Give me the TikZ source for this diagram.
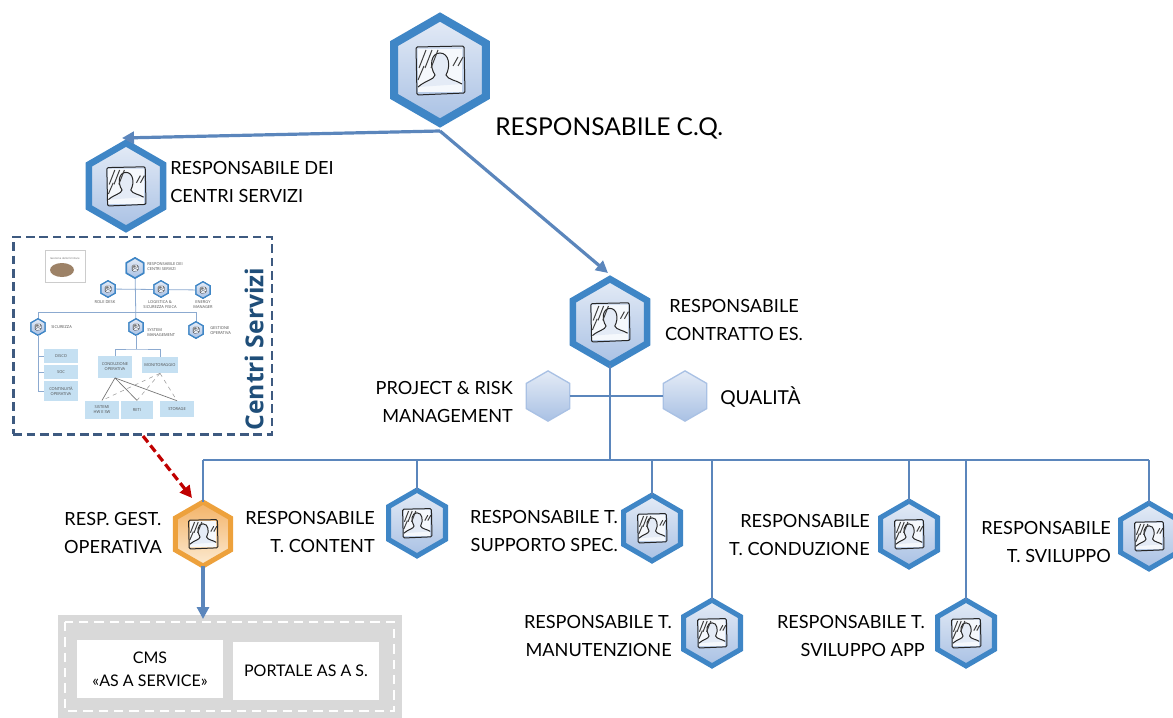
\documentclass[tikz,border=0pt]{standalone}
\usepackage{fontspec}
\setmainfont{Lato}
\newfontfamily\insetfont{Open Sans}
\usetikzlibrary{shapes.geometric,arrows.meta}
\definecolor{hexblue}{HTML}{3F86C6}
\definecolor{hexfillA}{HTML}{E4EBF6}
\definecolor{hexfillB}{HTML}{A9C1E4}
\definecolor{hexorange}{HTML}{EDA13C}
\definecolor{orangeA}{HTML}{FCEBD3}
\definecolor{orangeB}{HTML}{F3B266}
\definecolor{linkblue}{HTML}{5B86BC}
\definecolor{darkframe}{HTML}{3E5A80}
\definecolor{boxgrey}{HTML}{D9D9D9}
\definecolor{insetbox}{HTML}{C5E0F2}
\definecolor{insettitle}{HTML}{1F4E79}
\definecolor{darkred}{HTML}{C00000}
\newcommand{\iconlw}{0.75pt}
\tikzset{
  x=0.75pt,y=-0.75pt,
  hexbase/.style={regular polygon,regular polygon sides=6,shape border rotate=30,
    inner sep=0pt,outer sep=0pt,minimum size=1.37pt*#1},
  bluehex/.style={hexbase=#1,draw=hexblue,line width=0.105pt*#1,line join=miter,
    top color=hexfillA,bottom color=hexfillB},
  orangehex/.style={hexbase=#1,draw=hexorange,line width=0.105pt*#1,
    top color=orangeB,bottom color=orangeA},
  plainhex/.style={hexbase=#1,draw=hexfillB,line width=1pt,minimum size=1.45pt*#1,
    top color=hexfillA,bottom color=hexfillB},
  link/.style={draw=linkblue,line width=1.6pt},
  arrowlink/.style={draw=linkblue,line width=2.4pt,-{Triangle[length=9pt,width=9pt]}},
  label/.style={font=\fontsize{13.6}{21}\selectfont,align=center,inner sep=0pt,text=black},
  greybox/.style={fill=white,draw=none,align=center,inner sep=0pt,font=\fontsize{12}{17}\selectfont},
  inlink/.style={draw=linkblue!70,line width=0.6pt},
  inbox/.style={fill=insetbox,inner sep=0pt,align=center,font=\insetfont\fontsize{3}{3.8}\selectfont,minimum height=10pt,text=black!70},
  intext/.style={inner sep=0pt,align=left,font=\insetfont\fontsize{3}{3.8}\selectfont,text=black!70},
  usericon/.pic={
    \fill[white!88!hexfillB] (-22,-21) rectangle (22,22);
    \draw[black!85,line width=\iconlw,fill=hexfillA]
      (-22,17) .. controls (-14,10) and (-6,10) .. (-5,5)
      .. controls (-11,-4) and (-9,-17) .. (0,-17)
      .. controls (9,-17) and (11,-4) .. (6,5)
      .. controls (8,10) and (16,10) .. (22,14);
    \foreach \a in {-21,-15,-9}
      \draw[black!75,line width=\iconlw] (\a,-2) -- (\a+7,-20);
    \draw[black!75,line width=\iconlw] (-22,10) -- (-16,-4);
    \foreach \a in {13,18}
      \draw[black!75,line width=\iconlw] (\a,-4) -- (\a+5,-13);
    \draw[black!85,line width=\iconlw,rounded corners=1pt]
      (-24,-23) -- (24,-24) -- (25,23) -- (-23,25) -- cycle;
  },
}
\begin{document}
\begin{tikzpicture}
\useasboundingbox (0,0) rectangle (1173,717);

% ---- connectors drawn under the hexagons
\node[bluehex=58] (top) at (440,70) {};
\node[bluehex=47] (cs) at (126,186) {};
\node[bluehex=47] (ce) at (610,322) {};
\node[plainhex=26] (prm) at (548,396) {};
\node[plainhex=26] (qual) at (685,396) {};
\node[orangehex=35] (gest) at (203,534) {};
\node[bluehex=36] (tcont) at (417,523) {};
\node[bluehex=36] (tsupp) at (652,528) {};
\node[bluehex=36] (tcond) at (909,534) {};
\node[bluehex=36] (tsvil) at (1149,536) {};
\node[bluehex=36] (tman) at (712,633) {};
\node[bluehex=36] (tapp) at (966,633) {};

\pic[scale=1] at (top) {usericon};
\pic[scale=0.8] at (cs) {usericon};
\pic[scale=0.8] at (ce) {usericon};
\pic[scale=0.6] at (gest) {usericon};
\pic[scale=0.6] at (tcont) {usericon};
\pic[scale=0.6] at (tsupp) {usericon};
\pic[scale=0.6] at (tcond) {usericon};
\pic[scale=0.6] at (tsvil) {usericon};
\pic[scale=0.6] at (tman) {usericon};
\pic[scale=0.6] at (tapp) {usericon};

\coordinate (hub) at (610,460);
\coordinate (topfoot) at (440,131);
\coordinate (csarrow) at (122,138);
\coordinate (cearrow) at (608,273);
\draw[arrowlink] (topfoot) -- (csarrow);
\draw[arrowlink] (topfoot) -- (cearrow);
\draw[link] (ce.south) -- (hub);
\draw[link] (prm.east) -- (qual.west);
\coordinate (hleft) at (203,460);
\coordinate (hright) at (1149,460);
\draw[link] (hleft) -- (hright);
\draw[link] (hleft) -- (gest.north);
\draw[link] (tcont.north |- hub) -- (tcont.north);
\draw[link] (tsupp.north |- hub) -- (tsupp.north);
\draw[link] (tcond.north |- hub) -- (tcond.north);
\draw[link] (tsvil.north |- hub) -- (tsvil.north);
\draw[link] (tman.north |- hub) -- (tman.north);
\draw[link] (tapp.north |- hub) -- (tapp.north);

% ---- labels
\node[label,font=\fontsize{18.4}{22}\selectfont,anchor=west] (lbtop) at (495,128) {RESPONSABILE C.Q.};
\node[label,anchor=west,align=left] (lbcs) at (170,182) {RESPONSABILE DEI\\CENTRI SERVIZI};
\node[label,anchor=center] (lbce) at (734,320) {RESPONSABILE\\CONTRATTO ES.};
\node[label,anchor=east,align=right] (lbprm) at (513,402) {PROJECT \& RISK\\MANAGEMENT};
\node[label,anchor=west,font=\fontsize{14.4}{17}\selectfont] (lbq) at (720,397) {QUALITÀ};
\node[label,anchor=east,align=center] (lbgest) at (162,533) {RESP. GEST.\\OPERATIVA};
\node[label,anchor=east,align=right] (lbtc) at (375,532) {RESPONSABILE\\T. CONTENT};
\node[label,anchor=east,align=right] (lbts) at (618,531) {RESPONSABILE T.\\SUPPORTO SPEC.};
\node[label,anchor=east,align=right] (lbtd) at (870,535) {RESPONSABILE\\T. CONDUZIONE};
\node[label,anchor=east,align=right] (lbtv) at (1111,542) {RESPONSABILE\\T. SVILUPPO};
\node[label,anchor=east,align=right] (lbtm) at (672,636) {RESPONSABILE T.\\MANUTENZIONE};
\node[label,anchor=east,align=right] (lbta) at (925,636) {RESPONSABILE T.\\SVILUPPO APP};

% ---- grey box (clipped by the page edge)
\begin{scope}
\clip (0,0) rectangle (1173,717);
\fill[boxgrey] (58,615) rectangle (402,730);
\draw[white,line width=2pt,dash pattern=on 7pt off 4.5pt] (65,622) rectangle (394,711);
\end{scope}
\node[greybox,minimum width=110pt,minimum height=43.5pt] (cms) at (150,669) {CMS\\«AS A SERVICE»};
\node[greybox,minimum width=110pt,minimum height=43.5pt] (port) at (306,671) {PORTALE AS A S.};
\coordinate (greytop) at (203,619);
\draw[arrowlink] (gest.south) -- (greytop);

% ---- inset
\node[draw=darkframe,line width=2pt,dash pattern=on 6.5pt off 3.5pt,fill=white,
  minimum width=194pt,minimum height=148pt,inner sep=0pt,outer sep=0pt] (inset) at (142.5,335.5) {};
\node[rotate=90,text=insettitle,inner sep=0pt,font=\fontsize{18.5}{20}\bfseries\selectfont\insetfont] (instit) at (254,349) {Centri Servizi};

\node[draw=black!20,fill=white,minimum width=30pt,minimum height=24pt,inner sep=0pt] (thumb) at (65,266) {};
\fill[brown!60!black!70] (62,270) ellipse (12 and 7);
\node[inner sep=0pt,font=\insetfont\fontsize{2}{2.5}\selectfont,text=black!60] (thumbt) at (65,258) {Gestione delle forniture};

\renewcommand{\iconlw}{0.2pt}
\node[bluehex=11] (ia) at (135,268) {};
\node[bluehex=9] (ib) at (108,289) {};
\node[bluehex=9] (ic) at (161,289) {};
\node[bluehex=9] (id) at (203,290) {};
\node[bluehex=9] (ie) at (38,327) {};
\node[bluehex=9] (ig) at (136,327) {};
\node[bluehex=9] (ih) at (196,330) {};

\coordinate (ihub) at (135,312);
\draw[inlink] (ia) -- (ig);
\draw[inlink] (ib) -- (id);
\draw[inlink] (ie |- ihub) -- (ih |- ihub);
\draw[inlink] (ie |- ihub) -- (ie);
\draw[inlink] (ih |- ihub) -- (ih);

\node[bluehex=11] at (ia) {};
\node[bluehex=9] at (ib) {};
\node[bluehex=9] at (ic) {};
\node[bluehex=9] at (id) {};
\node[bluehex=9] at (ie) {};
\node[bluehex=9] at (ig) {};
\node[bluehex=9] at (ih) {};
\foreach \n in {ia,ib,ic,id,ie,ig,ih} \pic[scale=0.13] at (\n) {usericon};

\node[intext,anchor=west] (ta) at (147,267) {RESPONSABILE DEI\\CENTRI SERVIZI};
\node[intext,anchor=center] (tb) at (105,302) {ROLE DESK};
\node[intext,anchor=center,align=center] (tc) at (160,305) {LOGISTICA \&\\SICUREZZA FISICA};
\node[intext,anchor=center,align=center] (td) at (203,305) {ENERGY\\MANAGER};
\node[intext,anchor=west] (te) at (51,327) {SICUREZZA};
\node[intext,anchor=west] (tg) at (147,333) {SYSTEM\\MANAGEMENT};
\node[intext,anchor=west] (th) at (210,331) {GESTIONE\\OPERATIVA};

\node[inbox,minimum width=25pt,minimum height=10pt] (sa) at (61,356) {DISCO};
\node[inbox,minimum width=25pt,minimum height=10pt] (sb) at (61,372) {SOC};
\node[inbox,minimum width=25pt,minimum height=15pt] (sc) at (61,391) {CONTINUITÀ\\OPERATIVA};
\coordinate (tr) at (38,391);
\draw[inlink] (ie) -- (tr) -- (sc);
\draw[inlink] (tr |- sa) -- (sa);
\draw[inlink] (tr |- sb) -- (sb);

\node[inbox,minimum width=25pt,minimum height=16pt] (co) at (115,367) {CONDUZIONE\\OPERATIVA};
\node[inbox,minimum width=27pt,minimum height=12pt] (mo) at (160,365) {MONITORAGGIO};
\node[inbox,minimum width=25pt,minimum height=14pt] (si) at (102,410) {SISTEMI\\HW E SW};
\node[inbox,minimum width=24pt,minimum height=14pt] (re) at (137,410) {RETI};
\node[inbox,minimum width=25pt,minimum height=12pt] (st) at (177,409) {STORAGE};

\coordinate (ibr) at (136,349);
\draw[inlink] (ig) -- (ibr);
\draw[inlink] (co.north) |- (ibr) -| (mo.north);
\draw[black!55,line width=0.5pt] (co.south) -- (si.north);
\draw[black!55,line width=0.5pt] (co.south) -- (re.north);
\draw[black!55,line width=0.5pt] (co.south) -- (st.north);
\draw[black!40,line width=0.4pt,dashed] (mo.south) -- (si.north);
\draw[black!40,line width=0.4pt,dashed] (mo.south) -- (re.north);
\draw[black!40,line width=0.4pt,dashed] (mo.south) -- (st.north);

% ---- red dashed arrow
\coordinate (redfoot) at (143,436);
\coordinate (redtip) at (192,498);
\draw[darkred,line width=2.4pt,dash pattern=on 6pt off 3pt,-{Triangle[length=9pt,width=9pt]}] (redfoot) -- (redtip);
\end{tikzpicture}
\end{document}
